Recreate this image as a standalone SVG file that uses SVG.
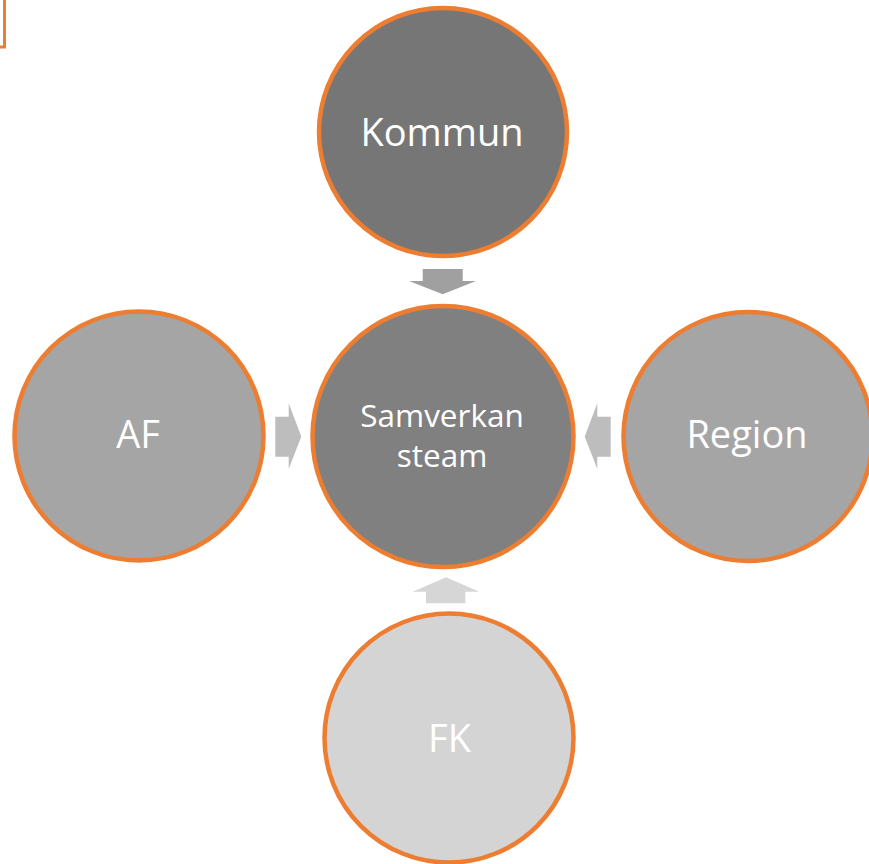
<svg xmlns="http://www.w3.org/2000/svg" width="869" height="864" viewBox="0 0 869 864">
  <style>
    .node { stroke: #ED7D31; stroke-width: 4.5; }
    .lbl { font-family: "Open Sans", "Liberation Sans", sans-serif; fill: #FFFFFF; text-anchor: middle; font-size: 38px; }
    .small { font-size: 31.5px; }
  </style>
  <rect width="869" height="864" fill="#FFFFFF"/>
  <path d="M -10 47 H 4.5 V -10" fill="none" stroke="#ED7D31" stroke-width="3"/>
  <g id="connectors">
    <polygon points="422.7,269 462.7,269 462.7,281 476,281 442.7,294.3 409,281 422.7,281" fill="#A0A0A0"/>
    <polygon points="275.3,416.7 288.7,416.7 288.7,403.3 301.3,436.5 288.7,469 288.7,456.7 275.3,456.7" fill="#BDBDBD"/>
    <polygon points="610.7,416.7 597.3,416.7 597.3,403.3 584.7,436.5 597.3,469 597.3,456.7 610.7,456.7" fill="#BDBDBD"/>
    <polygon points="426,603.3 465.3,603.3 465.3,591.7 479.3,591.7 446,577.3 412.7,591.7 426,591.7" fill="#D6D6D6"/>
  </g>
  <g id="kommun">
    <circle class="node" cx="443" cy="132" r="124" fill="#767676"/>
    <text class="lbl" x="442" y="146">Kommun</text>
  </g>
  <g id="af">
    <circle class="node" cx="139" cy="436" r="124.5" fill="#A5A5A5"/>
    <text class="lbl" x="138" y="448">AF</text>
  </g>
  <g id="samverkansteam">
    <circle class="node" cx="443" cy="436.5" r="130.5" fill="#808080"/>
    <text class="lbl small" x="442" y="427">Samverkan</text>
    <text class="lbl small" x="442" y="467">steam</text>
  </g>
  <g id="region">
    <circle class="node" cx="748" cy="436.5" r="124.5" fill="#A5A5A5"/>
    <text class="lbl" x="747" y="448">Region</text>
  </g>
  <g id="fk">
    <circle class="node" cx="449" cy="738" r="124.5" fill="#D4D4D4"/>
    <text class="lbl" x="449.5" y="752">FK</text>
  </g>
</svg>
